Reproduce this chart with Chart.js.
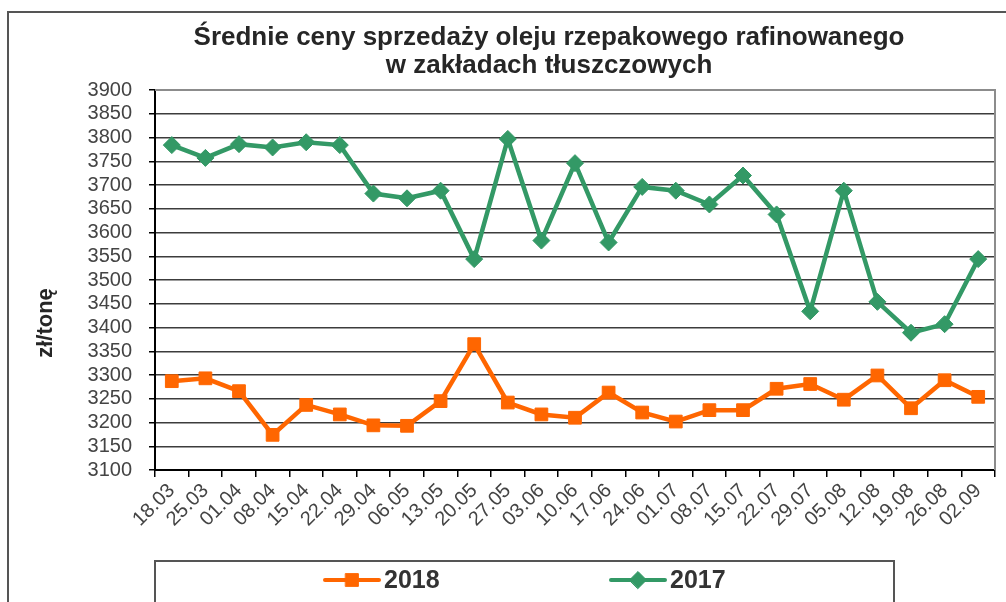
<!DOCTYPE html>
<html>
<head>
<meta charset="utf-8">
<script src="https://cdn.jsdelivr.net/npm/chart.js@4.4.1/dist/chart.umd.min.js"></script>
<style>
  body { margin: 0; background: #fff; }
  #wrap { width: 1006px; height: 602px; }
</style>
</head>
<body>
<div id="wrap"><canvas id="chart" width="1006" height="602"></canvas></div>
<script>
// data
const weeks = ['18.03', '25.03', '01.04', '08.04', '15.04', '22.04', '29.04', '06.05', '13.05',
  '20.05', '27.05', '03.06', '10.06', '17.06', '24.06', '01.07', '08.07', '15.07', '22.07',
  '29.07', '05.08', '12.08', '19.08', '26.08', '02.09'];
const prices2018 = [3287, 3293, 3266, 3174, 3237, 3217, 3194, 3193, 3245, 3365, 3242, 3217, 3210,
  3263, 3221, 3202, 3226, 3226, 3271, 3281, 3248, 3299, 3230, 3289, 3254];
const prices2017 = [3784, 3757, 3786, 3779, 3790, 3784, 3682, 3672, 3688, 3544, 3797, 3583, 3746,
  3579, 3696, 3688, 3659, 3720, 3638, 3434, 3688, 3454, 3389, 3407, 3544];
const yMin = 3100;
const yMax = 3900;
const yStep = 50;

const titleLines = ['Średnie ceny sprzedaży oleju rzepakowego rafinowanego', 'w zakładach tłuszczowych'];
const yTitle = 'zł/tonę';

const orange = '#ff6600';
const green = '#339966';
const fontFamily = '"Liberation Sans", Arial, sans-serif';

// frame, title, axis title and the boxed legend
const decorations = {
  id: 'decorations',
  beforeDraw(chart) {
    const ctx = chart.ctx;
    ctx.save();
    ctx.fillStyle = '#fff';
    ctx.fillRect(0, 0, chart.width, chart.height);
    ctx.strokeStyle = '#555';
    ctx.lineWidth = 2;
    ctx.beginPath();
    ctx.moveTo(8, 602);
    ctx.lineTo(8, 12);
    ctx.lineTo(1006, 12);
    ctx.stroke();

    ctx.fillStyle = '#262626';
    ctx.font = 'bold 26px ' + fontFamily;
    ctx.textAlign = 'center';
    ctx.textBaseline = 'middle';
    ctx.fillText(titleLines[0], 549, 38);
    ctx.fillText(titleLines[1], 549, 66);

    ctx.translate(46, 323);
    ctx.rotate(-Math.PI / 2);
    ctx.font = 'bold 22px ' + fontFamily;
    ctx.fillText(yTitle, 0, 0);
    ctx.restore();
  },
  beforeDatasetsDraw(chart) {
    const ctx = chart.ctx;
    const a = chart.chartArea;
    ctx.save();
    ctx.strokeStyle = '#8c8c8c';
    ctx.lineWidth = 2;
    ctx.beginPath();
    ctx.moveTo(a.left, a.top);
    ctx.lineTo(a.right, a.top);
    ctx.lineTo(a.right, a.bottom);
    ctx.stroke();
    ctx.restore();
  },
  afterDraw(chart) {
    const ctx = chart.ctx;
    ctx.save();
    ctx.strokeStyle = '#555';
    ctx.lineWidth = 2;
    ctx.strokeRect(155, 561, 739, 60);

    const items = [{ x: 325, ds: chart.data.datasets[0] }, { x: 611, ds: chart.data.datasets[1] }];
    items.forEach((it) => {
      const y = 580;
      ctx.strokeStyle = it.ds.borderColor;
      ctx.fillStyle = it.ds.backgroundColor;
      ctx.lineWidth = 4;
      ctx.lineCap = 'round';
      ctx.beginPath();
      ctx.moveTo(it.x, y);
      ctx.lineTo(it.x + 54, y);
      ctx.stroke();
      ctx.lineWidth = 1;
      Chart.helpers.drawPoint(ctx, {
        pointStyle: it.ds.pointStyle,
        radius: it.ds.pointRadius,
        borderWidth: 1
      }, it.x + 27, y);
      ctx.fillStyle = '#333';
      ctx.font = 'bold 25px ' + fontFamily;
      ctx.textAlign = 'left';
      ctx.textBaseline = 'middle';
      ctx.fillText(it.ds.label, it.x + 59, y + 1);
    });
    ctx.restore();
  }
};

new Chart(document.getElementById('chart'), {
  type: 'line',
  data: {
    labels: weeks,
    datasets: [
      {
        label: '2018',
        data: prices2018,
        borderColor: orange,
        backgroundColor: orange,
        borderWidth: 4.5,
        pointStyle: 'rect',
        pointRadius: 9,
        pointBorderWidth: 1,
        pointHoverRadius: 9,
        tension: 0
      },
      {
        label: '2017',
        data: prices2017,
        borderColor: green,
        backgroundColor: green,
        borderWidth: 4.5,
        pointStyle: 'rectRot',
        pointRadius: 8.5,
        pointBorderWidth: 1,
        pointHoverRadius: 8.5,
        tension: 0
      }
    ]
  },
  options: {
    responsive: false,
    animation: false,
    events: [],
    layout: { padding: { top: 90, right: 11, bottom: 0, left: 60 } },
    plugins: {
      legend: { display: false },
      title: { display: false },
      tooltip: { enabled: false }
    },
    scales: {
      x: {
        offset: true,
        afterFit(scale) { scale.height = 132; },
        grid: {
          offset: true,
          drawOnChartArea: false,
          tickLength: 7,
          tickColor: '#000',
          lineWidth: 1.5
        },
        border: { color: '#000', width: 2 },
        ticks: {
          autoSkip: false,
          minRotation: 45,
          maxRotation: 45,
          padding: 2,
          color: '#444',
          font: { family: fontFamily, size: 20 }
        }
      },
      y: {
        min: yMin,
        max: yMax,
        afterFit(scale) { scale.width = 95; },
        grid: {
          color: '#3c3c3c',
          lineWidth: 1.5,
          tickLength: 6,
          tickColor: '#000'
        },
        border: { color: '#000', width: 2 },
        ticks: {
          stepSize: yStep,
          maxTicksLimit: 40,
          autoSkip: false,
          padding: 17,
          color: '#444',
          font: { family: fontFamily, size: 20, lineHeight: 1 },
          callback: (v) => String(v)
        }
      }
    }
  },
  plugins: [decorations]
});
</script>
</body>
</html>
